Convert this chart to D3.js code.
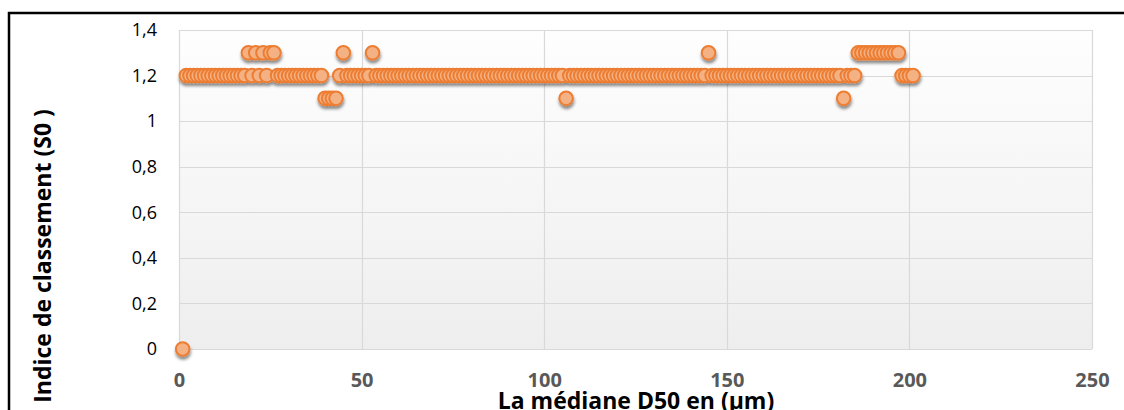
<!DOCTYPE html>
<html>
<head>
<meta charset="utf-8">
<script src="https://cdn.jsdelivr.net/npm/d3@7"></script>
<style>
  html, body { margin: 0; padding: 0; background: #ffffff; }
  svg { display: block; }
</style>
</head>
<body>
<svg id="chart" width="1124" height="410"></svg>
<script>
// ---- data ----
const d50 = [
  1,2,3,4,5,6,7,8,9,10,11,12,13,14,15,16,17,18,19,20,
  21,22,23,24,25,26,27,28,29,30,31,32,33,34,35,36,37,38,39,40,
  41,42,43,44,45,46,47,48,49,50,51,52,53,54,55,56,57,58,59,60,
  61,62,63,64,65,66,67,68,69,70,71,72,73,74,75,76,77,78,79,80,
  81,82,83,84,85,86,87,88,89,90,91,92,93,94,95,96,97,98,99,100,
  101,102,103,104,105,106,107,108,109,110,111,112,113,114,115,116,117,118,119,120,
  121,122,123,124,125,126,127,128,129,130,131,132,133,134,135,136,137,138,139,140,
  141,142,143,144,145,146,147,148,149,150,151,152,153,154,155,156,157,158,159,160,
  161,162,163,164,165,166,167,168,169,170,171,172,173,174,175,176,177,178,179,180,
  181,182,183,184,185,186,187,188,189,190,191,192,193,194,195,196,197,198,199,200,
  201
];
const s0 = [
  0,1.2,1.2,1.2,1.2,1.2,1.2,1.2,1.2,1.2,1.2,1.2,1.2,1.2,1.2,1.2,1.2,1.2,1.3,1.2,
  1.3,1.2,1.3,1.2,1.3,1.3,1.2,1.2,1.2,1.2,1.2,1.2,1.2,1.2,1.2,1.2,1.2,1.2,1.2,1.1,
  1.1,1.1,1.1,1.2,1.3,1.2,1.2,1.2,1.2,1.2,1.2,1.2,1.3,1.2,1.2,1.2,1.2,1.2,1.2,1.2,
  1.2,1.2,1.2,1.2,1.2,1.2,1.2,1.2,1.2,1.2,1.2,1.2,1.2,1.2,1.2,1.2,1.2,1.2,1.2,1.2,
  1.2,1.2,1.2,1.2,1.2,1.2,1.2,1.2,1.2,1.2,1.2,1.2,1.2,1.2,1.2,1.2,1.2,1.2,1.2,1.2,
  1.2,1.2,1.2,1.2,1.2,1.1,1.2,1.2,1.2,1.2,1.2,1.2,1.2,1.2,1.2,1.2,1.2,1.2,1.2,1.2,
  1.2,1.2,1.2,1.2,1.2,1.2,1.2,1.2,1.2,1.2,1.2,1.2,1.2,1.2,1.2,1.2,1.2,1.2,1.2,1.2,
  1.2,1.2,1.2,1.2,1.3,1.2,1.2,1.2,1.2,1.2,1.2,1.2,1.2,1.2,1.2,1.2,1.2,1.2,1.2,1.2,
  1.2,1.2,1.2,1.2,1.2,1.2,1.2,1.2,1.2,1.2,1.2,1.2,1.2,1.2,1.2,1.2,1.2,1.2,1.2,1.2,
  1.2,1.1,1.2,1.2,1.2,1.3,1.3,1.3,1.3,1.3,1.3,1.3,1.3,1.3,1.3,1.3,1.3,1.2,1.2,1.2,
  1.2
];
const xTicks = [0, 50, 100, 150, 200, 250];
const xTickLabels = ["0", "50", "100", "150", "200", "250"];
const yTicks = [0, 0.2, 0.4, 0.6, 0.8, 1, 1.2, 1.4];
const yTickLabels = ["0", "0,2", "0,4", "0,6", "0,8", "1", "1,2", "1,4"];
const xTitle = "La médiane D50 en (µm)";
const yTitle = "Indice de classement (S0 )";

// ---- layout ----
const plot = { left: 179, top: 30, right: 1092, bottom: 349 };
const svg = d3.select("#chart");

const x = d3.scaleLinear().domain([0, 250]).range([plot.left, plot.right]);
const y = d3.scaleLinear().domain([0, 1.4]).range([plot.bottom, plot.top]);

const defs = svg.append("defs");
const grad = defs.append("linearGradient").attr("id", "bg")
  .attr("x1", 0).attr("y1", 0).attr("x2", 0).attr("y2", 1);
grad.append("stop").attr("offset", "0%").attr("stop-color", "#fefefe");
grad.append("stop").attr("offset", "100%").attr("stop-color", "#eeeeee");

const shadow = defs.append("filter").attr("id", "shadow")
  .attr("x", "-50%").attr("y", "-50%").attr("width", "200%").attr("height", "200%");
shadow.append("feDropShadow").attr("dx", 0.5).attr("dy", 3).attr("stdDeviation", 1.6)
  .attr("flood-color", "#000").attr("flood-opacity", 0.45);

// outer black frame
svg.append("rect")
  .attr("x", 9).attr("y", 13).attr("width", 1130).attr("height", 420)
  .attr("fill", "none").attr("stroke", "#000").attr("stroke-width", 2.5);

// plot background
svg.append("rect")
  .attr("x", plot.left).attr("y", plot.top)
  .attr("width", plot.right - plot.left).attr("height", plot.bottom - plot.top)
  .attr("fill", "url(#bg)");

// gridlines
const grid = svg.append("g").attr("stroke", "#d9d9d9").attr("stroke-width", 1.2);
grid.selectAll("line.h").data(yTicks).join("line")
  .attr("x1", plot.left).attr("x2", plot.right)
  .attr("y1", d => Math.round(y(d)) + 0.5).attr("y2", d => Math.round(y(d)) + 0.5);
grid.selectAll("line.v").data(xTicks).join("line")
  .attr("y1", plot.top).attr("y2", plot.bottom)
  .attr("x1", d => Math.round(x(d)) + 0.5).attr("x2", d => Math.round(x(d)) + 0.5);

// x axis
const xAxis = d3.axisBottom(x).tickValues(xTicks)
  .tickFormat((d, i) => xTickLabels[i]).tickSize(0).tickPadding(0);
const gx = svg.append("g").attr("transform", `translate(0,${plot.bottom})`).call(xAxis);
gx.select(".domain").remove();
gx.selectAll("text")
  .attr("y", 38).attr("dy", 0)
  .attr("fill", "#595959")
  .style("font-family", "'Open Sans', sans-serif")
  .style("font-weight", "bold")
  .style("font-size", "20px");

// y axis
const yAxis = d3.axisLeft(y).tickValues(yTicks)
  .tickFormat((d, i) => yTickLabels[i]).tickSize(0).tickPadding(22);
const gy = svg.append("g").attr("transform", `translate(${plot.left},0)`).call(yAxis);
gy.select(".domain").remove();
gy.selectAll("text")
  .attr("fill", "#000")
  .style("font-family", "'Open Sans', sans-serif")
  .style("font-size", "18px");

// markers
const pts = d50.map((d, i) => ({ x: d, y: s0[i] }));
svg.append("g").attr("filter", "url(#shadow)")
  .selectAll("circle").data(pts).join("circle")
  .attr("cx", d => x(d.x)).attr("cy", d => y(d.y)).attr("r", 6.8)
  .attr("fill", "#f4b183").attr("stroke", "#ed7d31").attr("stroke-width", 2);

// axis titles
svg.append("text")
  .attr("x", 636).attr("y", 409).attr("text-anchor", "middle")
  .style("font-family", "'Open Sans', sans-serif")
  .style("font-weight", "bold").style("font-size", "23px").attr("fill", "#000")
  .text(xTitle);

svg.append("text")
  .attr("transform", "translate(51,256) rotate(-90)")
  .attr("text-anchor", "middle")
  .style("font-family", "'Open Sans', sans-serif")
  .style("font-weight", "bold").style("font-size", "23px").attr("fill", "#000")
  .text(yTitle);
</script>
</body>
</html>
